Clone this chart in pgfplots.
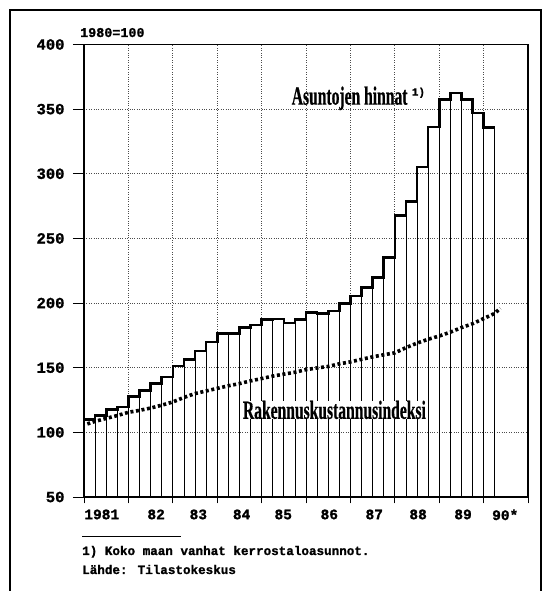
\documentclass[border=0pt]{standalone}
\usepackage{fontspec}
\usepackage{pgfplots}
\usepackage{pgfplotstable}
\pgfplotsset{compat=1.18}
\setmainfont{Liberation Serif}
\newfontfamily\monob{Liberation Mono}[BoldFeatures={FakeBold=1.2}]
\newfontfamily\cond{Liberation Serif}[FakeStretch=0.6, BoldFeatures={FakeBold=0.6}]

\pgfplotstableread{
x v
0 109.8
1 113.2
2 117.6
3 119.6
4 127.9
5 132.6
6 137.7
7 142.9
8 151.4
9 156.4
10 163.0
11 170.0
12 176.5
13 176.5
14 180.9
15 182.9
16 187.4
17 187.8
18 184.7
19 187.4
20 192.7
21 192.0
22 194.0
23 199.8
24 205.4
25 211.9
26 219.9
27 235.4
28 267.7
29 278.5
30 305.2
31 336.2
32 357.4
33 362.6
34 357.4
35 347.1
36 335.9
37 335.9
}\prices

\pgfplotstableread{
x v
0.3 106.5
1 108.5
2 110.8
3 113.0
4 115.5
5 117.0
6 118.8
7 121.0
8 123.5
9 127.0
10 130.0
11 132.0
12 134.0
13 136.0
14 137.7
15 139.8
16 141.6
17 143.5
18 145.0
19 146.5
20 148.5
21 149.8
22 151.0
23 153.0
24 154.5
25 156.5
26 158.4
27 160.0
28 161.5
29 165.5
30 169.0
31 172.0
32 174.5
33 177.5
34 181.0
35 184.0
36 188.0
37 192.0
37.5 196.0
}\costs

\begin{document}
\begin{tikzpicture}
\useasboundingbox (0,0) rectangle (545pt,591pt);
\pgfplotsset{base/.style={scale only axis, width=444pt, height=452.5pt,
  xmin=0, xmax=40, ymin=50, ymax=400, at={(84pt,94pt)}, anchor=south west,
  axis line style={line width=1.2pt}, tick style={line width=0.9pt, black}}}

% frame
\draw[line width=1.1pt] (10pt,0pt) -- (10pt,581pt) -- (541pt,581pt) -- (541pt,0pt);

\begin{axis}[base,
  xtick={1.6,6.5,10.3,14.2,17.95,22.1,26.15,30.1,34.15,37.95},
  xticklabels={1981,82,83,84,85,86,87,88,89,90*},
  x tick style={draw=none}, xtick pos=bottom,
  extra x ticks={4,8,...,36}, extra x tick labels={},
  extra x tick style={grid=major, tick style={draw=none}},
  ytick={50,100,...,400}, ytick pos=left,
  tick align=outside, major tick length=11pt,
  ymajorgrids,
  grid style={dotted, line width=0.7pt, black!70},
  /pgf/number format/assume math mode=true,
  yticklabel style={font=\monob\bfseries\fontsize{15.5}{15.5}\selectfont, xshift=-5pt},
  xticklabel style={font=\monob\bfseries\fontsize{14.5}{14.5}\selectfont, yshift=2pt},
]
\addplot[ybar interval, draw=black, fill=none, line width=0.8pt] table[x=x, y=v] {\prices};
\addplot[const plot, line width=2.6pt, line join=miter, black] table[x=x, y=v] {\prices};
\addplot[line width=3.6pt, dash pattern=on 3pt off 2.6pt, black] table[x=x, y=v] {\costs};

\node[anchor=base west, inner sep=0pt] at (axis cs:18.7,353.5)
  {\cond\bfseries\fontsize{26}{26}\selectfont Asuntojen hinnat\,\raisebox{9pt}{\monob\bfseries\fontsize{11}{11}\selectfont 1)}};
\node[anchor=base west, inner sep=0pt, fill=white] at (axis cs:14.3,110.5)
  {\cond\bfseries\fontsize{26}{26}\selectfont Rakennuskustannusindeksi};
\end{axis}

\begin{axis}[base,
  xtick={0,4,...,40}, xticklabels={}, xtick pos=bottom,
  ytick=\empty,
  tick align=center, major tick length=13pt,
]
\end{axis}

\begin{axis}[base,
  xtick=\empty, ytick=\empty,
  minor xtick={1,2,3,5,6,7,9,10,11,13,14,15,17,18,19,21,22,23,25,26,27,29,30,31,33,34,35,37,38,39},
  minor ytick={60,70,80,90,110,120,130,140,160,170,180,190,210,220,230,240,260,270,280,290,310,320,330,340,360,370,380,390},
  xtick pos=bottom, ytick pos=both,
  tick align=inside, minor tick length=5pt,
]
\end{axis}

\node[anchor=base west, inner sep=0pt] at (80pt,554pt)
  {\monob\bfseries\fontsize{13.4}{13.4}\selectfont 1980=100};
\draw[line width=1pt] (82pt,54pt) -- (181pt,54pt);
\node[anchor=base west, inner sep=0pt] at (82pt,36pt)
  {\monob\bfseries\fontsize{12.6}{12.6}\selectfont 1) Koko maan vanhat kerrostaloasunnot.};
\node[anchor=base west, inner sep=0pt] at (82pt,17pt)
  {\monob\bfseries\fontsize{12.6}{12.6}\selectfont Lähde: Tilastokeskus};
\end{tikzpicture}
\end{document}
